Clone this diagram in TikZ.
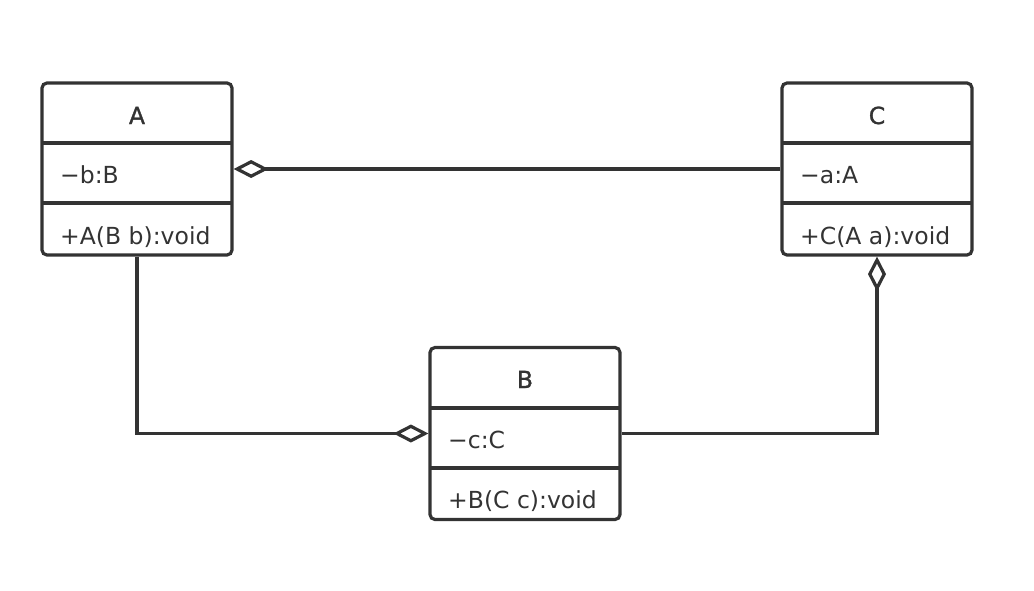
\documentclass[tikz,border=0pt]{standalone}
\usepackage{fontspec}
\setmainfont{DejaVu Sans}
\newfontfamily\hdrfont[FakeBold=1.2]{DejaVu Sans}
\usetikzlibrary{arrows.meta}
\definecolor{ink}{HTML}{333333}
\begin{document}
\begin{tikzpicture}[x=1pt,y=-1pt,
  umlbox/.style={draw=ink, line width=3.2pt, rounded corners=5pt, minimum width=190pt, minimum height=172pt, inner sep=0pt, outer sep=1.6pt},
  divider/.style={draw=ink, line width=3.2pt},
  hdr/.style={text=ink, font=\hdrfont\fontsize{23.5}{27}\selectfont, inner sep=0pt, anchor=base},
  mem/.style={text=ink, font=\fontsize{23.5}{27}\selectfont, inner sep=0pt, anchor=base west},
  link/.style={draw=ink, line width=3.2pt},
  agg/.style={-{Diamond[length=35pt,width=18pt,fill=white,line join=miter]}}
]
\useasboundingbox (0,0) rectangle (1034,590);
% boxes
\node[umlbox] (A) at (137,169) {};
\node[umlbox] (C) at (877,169) {};
\node[umlbox] (B) at (525,433.5) {};
% dividers
\draw[divider] (42,143) -- (232,143) (42,203) -- (232,203);
\draw[divider] (782,143) -- (972,143) (782,203) -- (972,203);
\draw[divider] (430,408) -- (620,408) (430,468) -- (620,468);
% texts
\node[hdr] (Ah) at (137,124) {A};
\node[mem] (Aa) at (60,183) {−b:B};
\node[mem] (Ao) at (60,244) {+A(B b):void};
\node[hdr] (Ch) at (877,124) {C};
\node[mem] (Ca) at (800,183) {−a:A};
\node[mem] (Co) at (800,244) {+C(A a):void};
\node[hdr] (Bh) at (525,388) {B};
\node[mem] (Ba) at (448,448) {−c:C};
\node[mem] (Bo) at (448,508) {+B(C c):void};
% connectors
\draw[link, agg] (C.west) -- (A.east);
\draw[link, agg] (A.south) |- (B.west);
\draw[link, agg] (B.east) -| (C.south);
\end{tikzpicture}
\end{document}
